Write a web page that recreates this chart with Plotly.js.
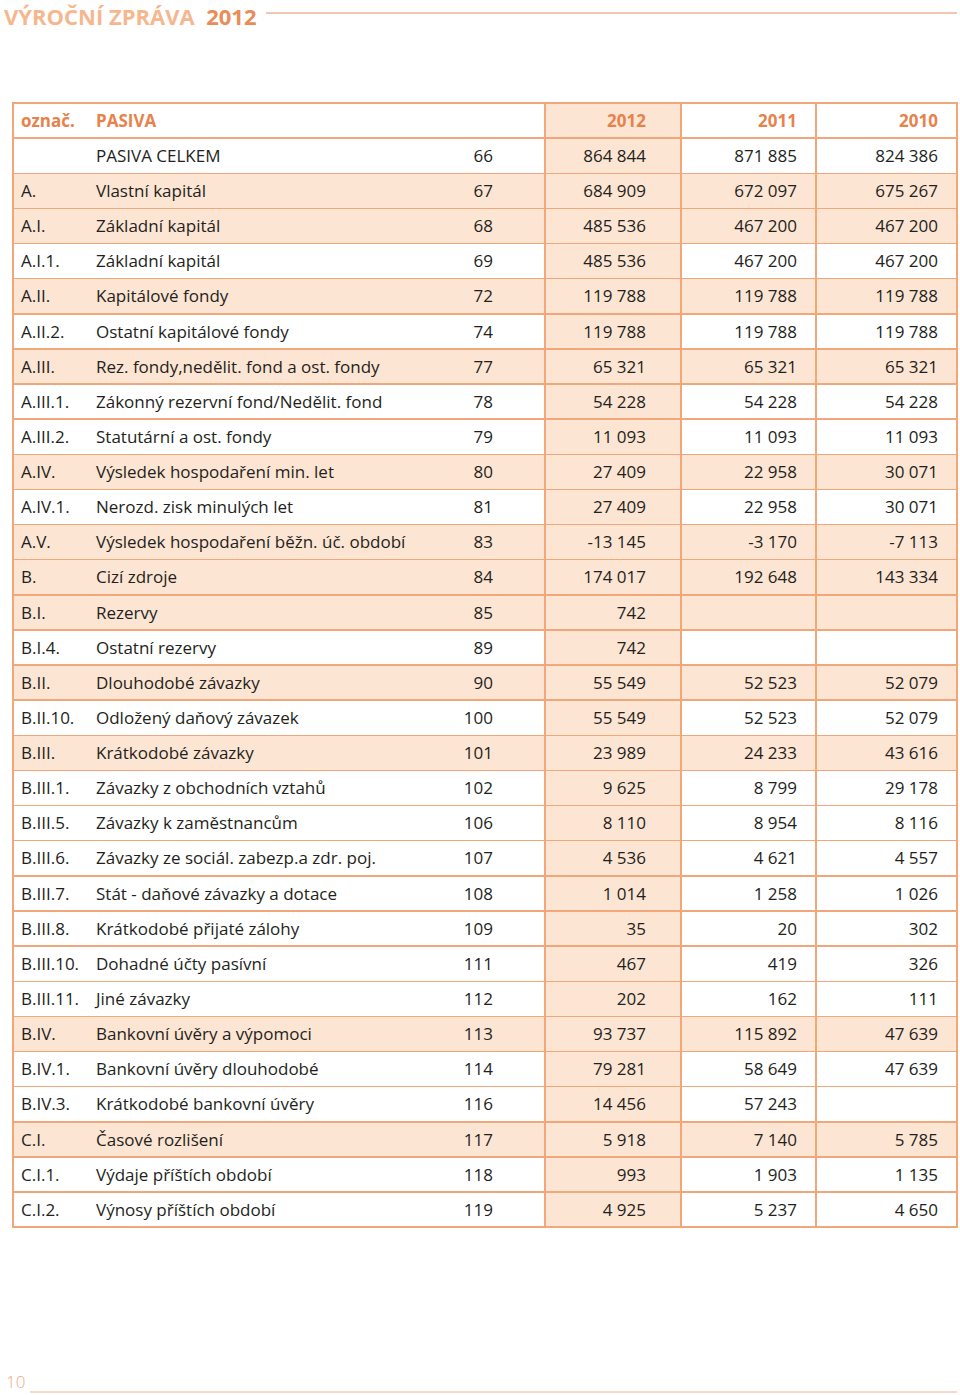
<!DOCTYPE html>
<html>
<head>
<meta charset="utf-8">
<script src="https://cdn.plot.ly/plotly-3.0.1.min.js"></script>
<style>html,body{margin:0;padding:0;background:#fff;}#chart{width:960px;height:1395px;}</style>
</head>
<body>
<div id="chart"></div>
<script>
// ---- data ----
const headerLabels = ["označ.", "PASIVA", "", "2012", "2011", "2010"];
const designations = ["", "A.", "A.I.", "A.I.1.", "A.II.", "A.II.2.", "A.III.", "A.III.1.", "A.III.2.", "A.IV.", "A.IV.1.", "A.V.", "B.", "B.I.", "B.I.4.", "B.II.", "B.II.10.", "B.III.", "B.III.1.", "B.III.5.", "B.III.6.", "B.III.7.", "B.III.8.", "B.III.10.", "B.III.11.", "B.IV.", "B.IV.1.", "B.IV.3.", "C.I.", "C.I.1.", "C.I.2."];
const names = ["PASIVA CELKEM", "Vlastní kapitál", "Základní kapitál", "Základní kapitál", "Kapitálové fondy", "Ostatní kapitálové fondy", "Rez. fondy,nedělit. fond a ost. fondy", "Zákonný rezervní fond/Nedělit. fond", "Statutární a ost. fondy", "Výsledek hospodaření min. let", "Nerozd. zisk minulých let", "Výsledek hospodaření běžn. úč. období", "Cizí zdroje", "Rezervy", "Ostatní rezervy", "Dlouhodobé závazky", "Odložený daňový závazek", "Krátkodobé závazky", "Závazky z obchodních vztahů", "Závazky k zaměstnancům", "Závazky ze sociál. zabezp.a zdr. poj.", "Stát - daňové závazky a dotace", "Krátkodobé přijaté zálohy", "Dohadné účty pasívní", "Jiné závazky", "Bankovní úvěry a výpomoci", "Bankovní úvěry dlouhodobé", "Krátkodobé bankovní úvěry", "Časové rozlišení", "Výdaje příštích období", "Výnosy příštích období"];
const rowNumbers = [66, 67, 68, 69, 72, 74, 77, 78, 79, 80, 81, 83, 84, 85, 89, 90, 100, 101, 102, 106, 107, 108, 109, 111, 112, 113, 114, 116, 117, 118, 119];
const values2012 = [864844, 684909, 485536, 485536, 119788, 119788, 65321, 54228, 11093, 27409, 27409, -13145, 174017, 742, 742, 55549, 55549, 23989, 9625, 8110, 4536, 1014, 35, 467, 202, 93737, 79281, 14456, 5918, 993, 4925];
const values2011 = [871885, 672097, 467200, 467200, 119788, 119788, 65321, 54228, 11093, 22958, 22958, -3170, 192648, null, null, 52523, 52523, 24233, 8799, 8954, 4621, 1258, 20, 419, 162, 115892, 58649, 57243, 7140, 1903, 5237];
const values2010 = [824386, 675267, 467200, 467200, 119788, 119788, 65321, 54228, 11093, 30071, 30071, -7113, 143334, null, null, 52079, 52079, 43616, 29178, 8116, 4557, 1026, 302, 326, 111, 47639, 47639, null, 5785, 1135, 4650];

// ---- styling ----
const ORANGE_LINE = "#f2a77a";
const SHADE = "#fde5d4";
const WHITE = "#ffffff";
const HEAD_TXT = "#e8824c";
const BODY_TXT = "#231f20";
const FONT = "Open Sans, Noto Sans, sans-serif";

const W = 960, H = 1395;
const tableTop = 103;
const textShift = 3;
const rowH = 35.13;

function fmt(v) {
  if (v === null || v === undefined) return "";
  const s = Math.abs(v).toString().replace(/\B(?=(\d{3})+(?!\d))/g, " ");
  return (v < 0 ? "-" : "") + s;
}
const isGroup = designations.map(d => /^[A-C]\.([IVX]+\.)?$/.test(d));
const rowFill = isGroup.map(g => g ? SHADE : WHITE);
const n = designations.length;
const empty = new Array(n).fill("");
const allShade = new Array(n).fill(SHADE);

const domainX = [13 / W, 957 / W];

// Table 1: background fills and borders
const bgTable = {
  type: "table",
  domain: {x: domainX, y: [0, 1 - tableTop / H]},
  columnwidth: [532, 136, 135, 141],
  header: {
    values: ["", "", "", ""],
    fill: {color: [WHITE, SHADE, WHITE, WHITE]},
    line: {color: ORANGE_LINE, width: 1.5},
    height: rowH,
    font: {size: 17, family: FONT}
  },
  cells: {
    values: [empty, empty, empty, empty],
    fill: {color: [rowFill, allShade, rowFill, rowFill]},
    line: {color: ORANGE_LINE, width: 1.5},
    height: rowH,
    font: {size: 17, family: FONT}
  },
  hoverinfo: "skip"
};

// Table 2: text overlay (no borders, transparent fill)
const T = "rgba(0,0,0,0)";
const txtTable = {
  type: "table",
  domain: {x: domainX, y: [0, 1 - (tableTop + textShift) / H]},
  columnwidth: [75, 340, 73, 53, 100, 151, 141, 11],
  header: {
    values: [headerLabels[0], headerLabels[1], "", "", headerLabels[3], headerLabels[4], headerLabels[5], ""],
    align: ["left", "left", "right", "right", "right", "right", "right", "right"],
    fill: {color: T},
    line: {color: T, width: 0},
    height: rowH,
    font: {size: 17, family: FONT, color: HEAD_TXT, weight: "bold"}
  },
  cells: {
    values: [designations, names, rowNumbers.map(String), empty, values2012.map(fmt), values2011.map(fmt), values2010.map(fmt), empty],
    align: ["left", "left", "right", "right", "right", "right", "right", "right"],
    fill: {color: T},
    line: {color: T, width: 0},
    height: rowH,
    font: {size: 17, family: FONT, color: BODY_TXT}
  },
  hoverinfo: "skip"
};

const layout = {
  width: W, height: H,
  margin: {l: 0, r: 0, t: 0, b: 0},
  paper_bgcolor: "#ffffff",
  showlegend: false,
  annotations: [
    {xref: "paper", yref: "paper", x: 2 / W, y: 1 - 16 / H, xanchor: "left", yanchor: "middle",
     text: '<span style="color:#f6b78f">VÝROČNÍ ZPRÁVA</span>  <span style="color:#ea8c58">2012</span>',
     showarrow: false, font: {size: 22, family: FONT, weight: "bold"}},
    {xref: "paper", yref: "paper", x: 4 / W, y: 1 - 1381 / H, xanchor: "left", yanchor: "middle",
     text: "10", showarrow: false, font: {size: 17, family: FONT, color: "#eeaa80", weight: 300}}
  ],
  shapes: [
    {type: "line", xref: "paper", yref: "paper", x0: 266 / W, x1: 957 / W, y0: 1 - 13 / H, y1: 1 - 13 / H,
     line: {color: "#eab49a", width: 1.5}},
    {type: "line", xref: "paper", yref: "paper", x0: 30 / W, x1: 957 / W, y0: 1 - 1392 / H, y1: 1 - 1392 / H,
     line: {color: "#f2b48c", width: 1.2}}
  ]
};

Plotly.newPlot("chart", [bgTable, txtTable], layout, {displayModeBar: false, staticPlot: true});
</script>
</body>
</html>
